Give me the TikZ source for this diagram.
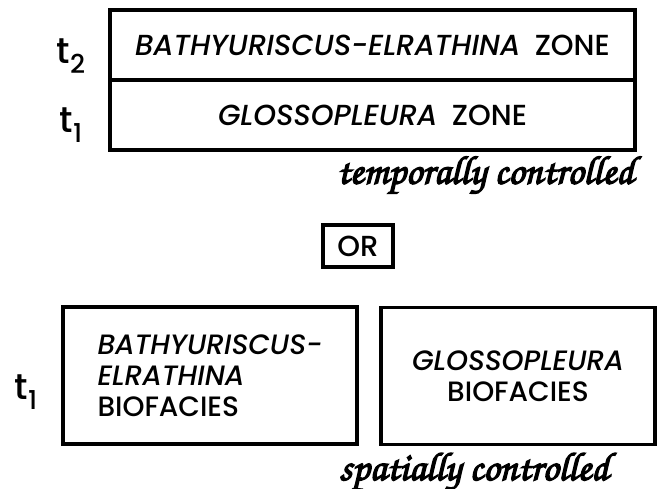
\documentclass[tikz,border=0pt]{standalone}
\usepackage[T1]{fontenc}
\usepackage{fontspec}
\setmainfont{Poppins}[UprightFont=* Medium, ItalicFont=* Medium Italic]
\usepackage{tikz}
\usetikzlibrary{positioning}

\newcommand{\handfont}{\fontencoding{T1}\fontfamily{pzc}\fontseries{mb}\fontshape{it}\selectfont}
\newcommand{\heavyhand}[1]{\special{pdf:literal direct 2 Tr 1.3 w}#1\special{pdf:literal direct 0 Tr}}

\begin{document}
\begin{tikzpicture}[
    x=1pt, y=-1pt,
    font=\fontsize{28}{31}\selectfont,
    zone/.style={draw, line width=3.2pt, minimum width=525pt, minimum height=70pt, inner sep=0pt, outer sep=0pt, font=\fontsize{29}{31}\selectfont},
    facies/.style={draw, line width=3.2pt, minimum height=137pt, inner sep=0pt, align=left},
    orbox/.style={draw, line width=3.2pt, minimum width=70pt, minimum height=42pt, inner sep=0pt, font=\fontsize{29}{29}\selectfont},
    timelabel/.style={inner sep=0pt, font=\fontsize{36}{36}\selectfont},
    control/.style={inner sep=0pt, font=\handfont\fontsize{40}{40}\selectfont}
]
\useasboundingbox (0,0) rectangle (662,489);

% upper column: two zones in time
\node[zone] (zonetwo) at (372.5,45) {\textit{BATHYURISCUS-ELRATHINA}\enspace ZONE};
\node[zone, below=0pt of zonetwo] (zoneone) {\textit{GLOSSOPLEURA}\enspace ZONE};
\node[timelabel] (ttwo) at (71,56) {t\raisebox{-0.5ex}{\fontsize{26}{26}\selectfont 2}};
\node[timelabel] (tone) at (71,125) {t\raisebox{-0.5ex}{\fontsize{26}{26}\selectfont 1}};
\node[control, anchor=north east] (temporal) at (634,155) {\heavyhand{temporally controlled}};

\node[orbox] (or) at (358,246) {OR};

% lower row: two facies side by side
\node[facies, minimum width=294pt] (bathy) at (210,375.5) {\textit{BATHYURISCUS-}\\\textit{ELRATHINA}\\BIOFACIES};
\node[facies, minimum width=274pt, align=center] (glosso) at (518,376) {\textit{GLOSSOPLEURA}\\BIOFACIES};
\node[timelabel] (tbase) at (26,392) {t\raisebox{-0.5ex}{\fontsize{26}{26}\selectfont 1}};
\node[control] (spatial) at (474,472) {\heavyhand{spatially controlled}};
\end{tikzpicture}
\end{document}
